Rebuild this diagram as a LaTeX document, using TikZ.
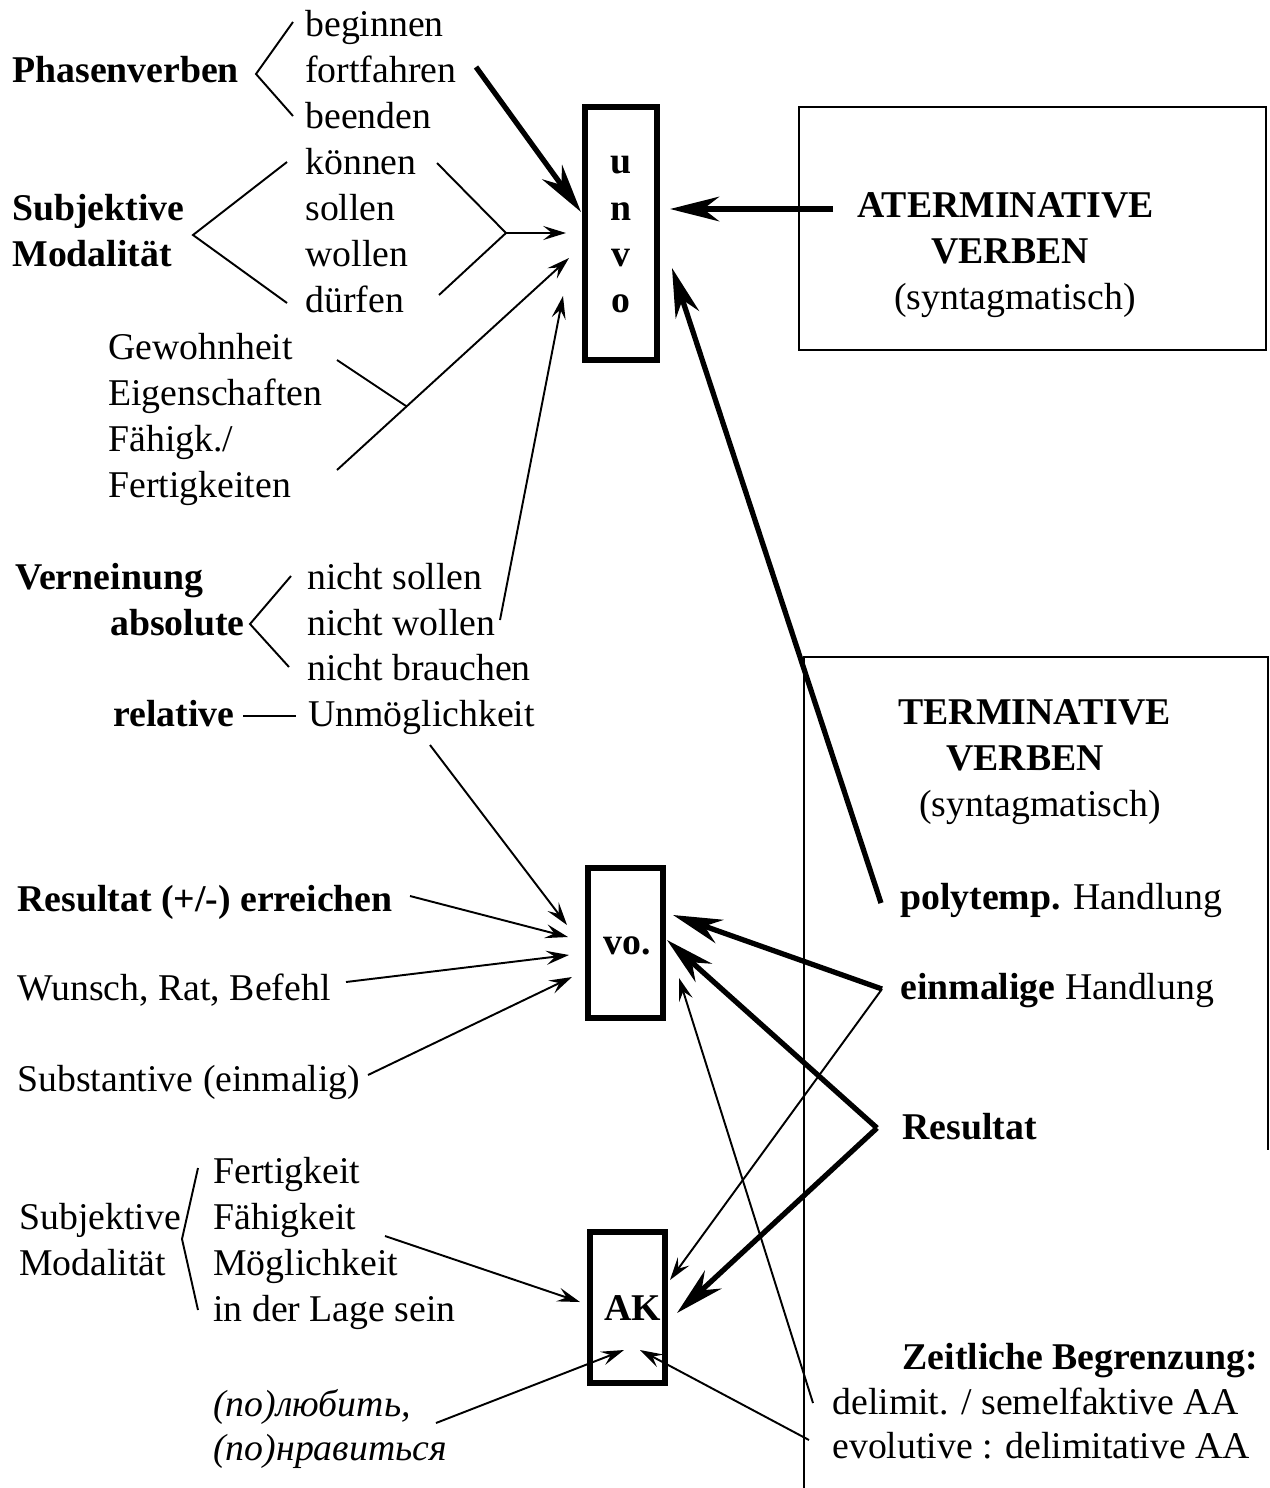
\documentclass[tikz,border=0pt]{standalone}
\usepackage{fontspec}
\setmainfont{Liberation Serif}
\usetikzlibrary{arrows.meta,calc}
\begin{document}
\begin{tikzpicture}[x=0.02cm,y=-0.02cm,
  font=\fontsize{21.5}{25}\selectfont,
  txt/.style={anchor=mid west,inner sep=0pt,yshift=-3pt},
  bt/.style={txt,font=\fontsize{21.5}{25}\selectfont\bfseries},
  ctr/.style={anchor=mid,inner sep=0pt,yshift=-3pt},
  bctr/.style={ctr,font=\fontsize{21.5}{25}\selectfont\bfseries},
  thinline/.style={line width=1.1pt},
  thickline/.style={line width=3pt},
  tarr/.style={thinline,-{Stealth[length=13pt,width=8pt,inset=5pt]}},
  karr/.style={thickline,-{Stealth[length=28pt,width=14pt,inset=9pt]}},
  vbox/.style={draw,line width=3pt,inner sep=0pt}]
\useasboundingbox (0,0) rectangle (1270,1488);

% ---------- boxes ----------
\node[vbox,minimum width=1.44cm,minimum height=5.06cm] (unvo) at (621,233.5) {};
\node[vbox,minimum width=1.5cm,minimum height=3.0cm] (vo) at (625.5,943) {};
\node[vbox,minimum width=1.5cm,minimum height=3.02cm] (ak) at (627.5,1307.5) {};
\node[draw,line width=0.9pt,inner sep=0pt,minimum width=9.34cm,minimum height=4.86cm] (aterm) at (1032.5,228.5) {};
\coordinate (tbl) at (804,1488);
\coordinate (ttl) at (804,657);
\coordinate (ttr) at (1268,657);
\coordinate (tbr) at (1268,1150);
\draw[line width=0.9pt] (tbl) -- (ttl) -- (ttr) -- (tbr);

\node[bctr] (lu) at (621,164) {u};
\node[bctr] (ln) at (621,211) {n};
\node[bctr] (lv) at (621,257) {v};
\node[bctr] (lo) at (621,303) {o};
\node[bctr] (lvo) at (627,945) {vo.};
\node[bctr] (lak) at (633,1311) {AK};

% ---------- left texts ----------
\node[bt] (phasen) at (12,73) {Phasenverben};
\node[txt] (beginnen) at (305,27) {beginnen};
\node[txt] (fortfahren) at (305,73) {fortfahren};
\node[txt] (beenden) at (305,119) {beenden};
\node[txt] (koennen) at (305,165) {können};
\node[txt] (sollen) at (305,211) {sollen};
\node[txt] (wollen) at (305,257) {wollen};
\node[txt] (duerfen) at (305,303) {dürfen};
\node[bt] (subj) at (12,211) {Subjektive};
\node[bt] (moda) at (12,257) {Modalität};
\node[txt] (gew) at (108,350) {Gewohnheit};
\node[txt] (eig) at (108,396) {Eigenschaften};
\node[txt] (faeh) at (108,442) {Fähigk./};
\node[txt] (fert) at (108,488) {Fertigkeiten};
\node[bt] (vern) at (15,580) {Verneinung};
\node[bt] (abs) at (110,626) {absolute};
\node[bt] (rel) at (113,717) {relative};
\node[txt] (nsollen) at (307,580) {nicht sollen};
\node[txt] (nwollen) at (307,626) {nicht wollen};
\node[txt] (nbrauchen) at (307,671) {nicht brauchen};
\node[txt] (unmoegl) at (308,717) {Unmöglichkeit};
\node[bt] (reserr) at (17,902) {Resultat (+/-) erreichen};
\node[txt] (wunsch) at (17,991) {Wunsch, Rat, Befehl};
\node[txt] (subst) at (17,1082) {Substantive (einmalig)};
\node[txt] (subj2) at (19,1220) {Subjektive};
\node[txt] (moda2) at (19,1266) {Modalität};
\node[txt] (fertk) at (213,1174) {Fertigkeit};
\node[txt] (faehk) at (213,1220) {Fähigkeit};
\node[txt] (moegl) at (213,1266) {Möglichkeit};
\node[txt] (lage) at (213,1312) {in der Lage sein};
\node[txt,font=\fontsize{21.5}{25}\selectfont\itshape] (ljub) at (213,1407) {(по)любить,};
\node[txt,font=\fontsize{21.5}{25}\selectfont\itshape] (nrav) at (213,1451) {(по)нравиться};

% ---------- right texts ----------
\node[bt] (aterm1) at (857,208) {ATERMINATIVE};
\node[bctr] (aterm2) at (1010,254) {VERBEN};
\node[ctr] (aterm3) at (1015,300) {(syntagmatisch)};
\node[bt] (term1) at (898,715) {TERMINATIVE};
\node[bctr] (term2) at (1025,761) {VERBEN};
\node[ctr] (term3) at (1040,807) {(syntagmatisch)};
\node[txt] (poly) at (900,900) {\textbf{polytemp.} Handlung};
\node[txt] (einm) at (900,990) {\textbf{einmalige} Handlung};
\node[bt] (res) at (902,1130) {Resultat};
\node[anchor=mid east,inner sep=0pt,yshift=-3pt,font=\fontsize{21.5}{25}\selectfont\bfseries] (zeit) at (1258,1360) {Zeitliche Begrenzung:};
\node[txt] (delim) at (832,1405) {delimit. / semelfaktive AA};
\node[txt] (evol) at (832,1449) {evolutive : delimitative AA};

% ---------- brackets ----------
\coordinate (phv) at (256,74);
\draw[thinline] (293,22) -- (phv) -- (293,116);
\coordinate (sv) at (193,235);
\draw[thinline] (287,162) -- (sv) -- (287,303);
\coordinate (rv) at (506,233);
\draw[thinline] (437,163) -- (rv) -- (439,295);
\coordinate (av) at (250,624);
\draw[thinline] (291,576) -- (av) -- (289,667);
\coordinate (relA) at (243,716);
\coordinate (relB) at (296,716);
\draw[thinline] (relA) -- (relB);
\coordinate (lv2) at (182,1239);
\draw[thinline] (198,1168) -- (lv2) -- (198,1310);

% ---------- arrows into unvo ----------
\coordinate (s1) at (476,67);  \coordinate (e1) at (581,212);
\draw[karr] (s1) -- (e1);
\coordinate (s2) at (833,209); \coordinate (e2) at (670,209);
\draw[karr] (s2) -- (e2);
\coordinate (e3) at (566,233);
\draw[tarr] (rv) -- (e3);
\coordinate (s4) at (337,470); \coordinate (e4) at (569,258);
\coordinate (s4b) at (337,360);
\draw[tarr] (s4) -- (e4);
\draw[thinline] (s4b) -- ($(s4)!0.30!(e4)$);
\coordinate (s5) at (500,620); \coordinate (e5) at (563,296);
\draw[tarr] (s5) -- (e5);
\coordinate (s6) at (881,903); \coordinate (e6) at (672,268);
\draw[karr] (s6) -- (e6);

% ---------- arrows into vo ----------
\coordinate (s7) at (430,745); \coordinate (e7) at (567,925);
\draw[tarr] (s7) -- (e7);
\coordinate (s8) at (410,896); \coordinate (e8) at (568,937);
\draw[tarr] (s8) -- (e8);
\coordinate (s9) at (346,982); \coordinate (e9) at (569,955);
\draw[tarr] (s9) -- (e9);
\coordinate (s10) at (368,1075); \coordinate (e10) at (572,977);
\draw[tarr] (s10) -- (e10);
\coordinate (einv) at (882,989);
\coordinate (e11) at (673,915);
\draw[karr] (einv) -- (e11);
\coordinate (resv) at (877,1128);
\coordinate (e12) at (667,940);
\draw[karr] (resv) -- (e12);
\coordinate (s15) at (813,1403); \coordinate (e15) at (679,978);
\draw[tarr] (s15) -- (e15);

% ---------- arrows into AK ----------
\coordinate (e13) at (677,1313);
\draw[karr] (resv) -- (e13);
\coordinate (e14) at (670,1280);
\draw[tarr] (einv) -- (e14);
\coordinate (s16) at (809,1440); \coordinate (e16) at (640,1350);
\draw[tarr] (s16) -- (e16);
\coordinate (s17) at (436,1423); \coordinate (e17) at (624,1350);
\draw[tarr] (s17) -- (e17);
\coordinate (s18) at (385,1236); \coordinate (e18) at (580,1302);
\draw[tarr] (s18) -- (e18);
\end{tikzpicture}
\end{document}
